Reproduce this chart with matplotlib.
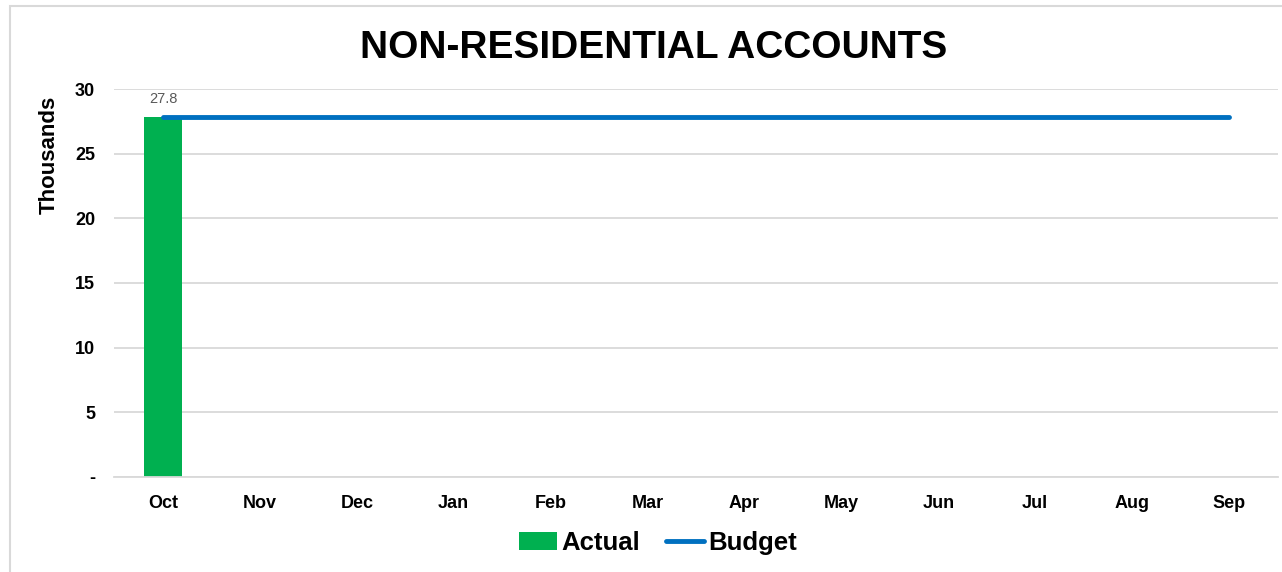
import matplotlib.pyplot as plt
import numpy as np
from matplotlib.patches import Rectangle

plt.rcParams['font.family'] = ['Liberation Sans', 'DejaVu Sans']

months = ["Oct", "Nov", "Dec", "Jan", "Feb", "Mar", "Apr", "May", "Jun", "Jul", "Aug", "Sep"]
actual = [27.8]
budget = [27.8] * 12
yticks = [0, 5, 10, 15, 20, 25, 30]
ytick_labels = ["-", "5", "10", "15", "20", "25", "30"]

fig = plt.figure(figsize=(12.82, 5.72), dpi=100)
ax = fig.add_axes([0.0893, 0.1661, 0.9072, 0.6783])

x = np.arange(len(months))
bars = ax.bar(x[:len(actual)], actual, width=0.4, color="#00B050", label="Actual", zorder=2)
line, = ax.plot(x, budget, color="#0070C0", linewidth=3.5, solid_capstyle="round", label="Budget", zorder=3)

for i, v in enumerate(actual):
    ax.text(x[i], v + 0.9, f"{v:.1f}", ha="center", va="bottom", fontsize=10.5, color="#595959")

ax.set_xlim(-0.5, len(months) - 0.5)
ax.set_ylim(0, 30)
ax.set_xticks(x)
ax.set_xticklabels(months, fontsize=13, fontweight="bold")
ax.set_yticks(yticks)
ax.set_yticklabels(ytick_labels, fontsize=13, fontweight="bold")
ax.tick_params(axis="both", length=0)
ax.tick_params(axis="y", pad=14)
ax.tick_params(axis="x", pad=13)
ax.grid(axis="y", color="#D9D9D9", linewidth=1.3, zorder=0)
for s in ["top", "right", "left"]:
    ax.spines[s].set_visible(False)
ax.spines["bottom"].set_color("#D9D9D9")
ax.spines["bottom"].set_linewidth(1.3)

ax.set_ylabel("Thousands", fontsize=16, fontweight="bold")
ax.yaxis.set_label_coords(-0.047, 0.83)

fig.text(0.510, 0.916, "NON-RESIDENTIAL ACCOUNTS", ha="center", va="center",
         fontsize=28, fontweight="bold")

fig.legend([bars, line], ["Actual", "Budget"], loc="center", bbox_to_anchor=(0.513, 0.051),
           ncol=2, frameon=False, prop={"size": 18.5, "weight": "bold"}, handlelength=1.5,
           handletextpad=0.15, columnspacing=1.0)

fig.patches.append(Rectangle((10 / 1282, -0.1), 1.2, (1 - 6 / 572) + 0.1,
                             transform=fig.transFigure, fill=False,
                             edgecolor="#D9D9D9", linewidth=1.5))

fig.savefig("out.png", dpi=100)
